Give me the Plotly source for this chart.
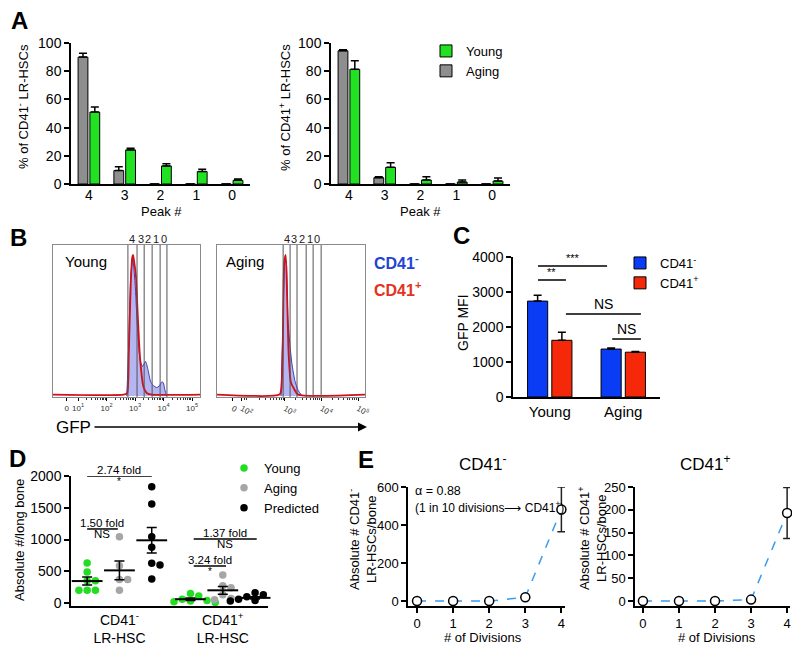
import numpy as np
import plotly.graph_objects as go

# The page body has an 8 px margin, so the figure is drawn 8 px smaller and all
# positions are expressed in reference pixels then shifted by that margin.
OFF = 8
W, H = 800 - OFF, 651 - OFF
FONT = "Arial, Liberation Sans, Helvetica, sans-serif"

GREEN = "#22e022"
GRAY = "#8e8e8e"
BLUE = "#0a3cf5"
RED = "#f5280a"
LBLUE = "#3a9bf0"

# ---------------- Panel A data ----------------
peaks = ["4", "3", "2", "1", "0"]
a_neg_aging = [90, 9.5, 0, 0, 0]
a_neg_aging_err = [2.8, 2.8, 0, 0, 0]
a_neg_young = [51, 24.2, 12.8, 8.8, 2.6]
a_neg_young_err = [3.6, 1.1, 1.6, 1.6, 0.9]
a_pos_aging = [94.5, 4.5, 0, 0, 0]
a_pos_aging_err = [0.7, 0.7, 0, 0, 0]
a_pos_young = [81.3, 11.8, 2.8, 1.4, 2.1]
a_pos_young_err = [6.2, 3.3, 2.4, 1.5, 2.2]

# ---------------- Panel B data (log10 GFP units, relative counts) ----------------
b_young_neg_x = [2.71, 2.77, 2.85, 2.92, 3.0, 3.08, 3.175, 3.26, 3.32, 3.37, 3.45, 3.55, 3.64, 3.76, 3.85, 3.94, 3.99, 4.05, 4.11]
b_young_neg_y = [0, 0.3, 0.85, 0.97, 0.8, 0.5, 0.26, 0.21, 0.23, 0.245, 0.19, 0.1, 0.075, 0.06, 0.07, 0.1, 0.095, 0.04, 0]
b_young_pos_x = [0.1, 2.6, 2.72, 2.78, 2.85, 2.9, 2.93, 2.97, 3.03, 3.1, 3.175, 3.29, 3.42, 3.6, 5.3]
b_young_pos_y = [0.01, 0.01, 0.02, 0.3, 0.8, 0.98, 1.0, 0.95, 0.85, 0.55, 0.27, 0.07, 0.02, 0.01, 0.01]
b_aging_neg_x = [2.89, 2.945, 3.0, 3.03, 3.055, 3.08, 3.14, 3.19, 3.27, 3.36, 3.47]
b_aging_neg_y = [0, 0.5, 0.95, 0.96, 0.8, 0.55, 0.35, 0.23, 0.11, 0.04, 0]
b_aging_pos_x = [1.1, 2.85, 2.9, 2.945, 2.98, 3.02, 3.06, 3.1, 3.16, 3.25, 3.36, 5.2]
b_aging_pos_y = [0.01, 0.01, 0.05, 0.45, 0.95, 1.0, 0.7, 0.3, 0.1, 0.05, 0.01, 0.01]
b_young_gates = [2.75, 3.07, 3.32, 3.6, 3.88, 4.12]
b_aging_gates = [2.95, 3.14, 3.33, 3.58, 3.77, 3.99]
gate_labels = ["4", "3", "2", "1", "0"]
b_young_ticks = [0.6, 1, 2, 3, 4, 5]
b_young_ticktext = ["0", "10<sup>1</sup>", "10<sup>2</sup>", "10<sup>3</sup>", "10<sup>4</sup>", "10<sup>5</sup>"]
b_aging_ticks = [1.575, 1.82, 3, 4, 5]
b_aging_ticktext = ["0", "10<sup>2</sup>", "10<sup>3</sup>", "10<sup>4</sup>", "10<sup>5</sup>"]

# ---------------- Panel C data ----------------
c_groups = ["Young", "Aging"]
c_neg = [2740, 1370]
c_neg_err = [170, 30]
c_pos = [1620, 1280]
c_pos_err = [230, 20]

# ---------------- Panel D data ----------------
d_neg_young = [630, 490, 350, 350, 200, 200, 200]
d_neg_aging = [1045, 585, 370, 370, 200]
d_neg_pred = [1830, 1560, 1045, 877, 625, 598, 378]
d_pos_young = [150, 110, 60, 40, 30, 20, 10]
d_pos_aging = [440, 270, 240, 130, 70, 50]
d_pos_pred = [160, 130, 100, 80, 60, 50, 40, 30]
d_categories = ["CD41<sup>-</sup><br>LR-HSC", "CD41<sup>+</sup><br>LR-HSC"]

# ---------------- Panel E data ----------------
divisions = [0, 1, 2, 3, 4]
e_neg = [0, 0, 0, 20, 482]
e_neg_err = [0, 0, 0, 0, 118]
e_pos = [0, 0, 0, 3, 193]
e_pos_err = [0, 0, 0, 0, 56]


def px(x):
    return (x - OFF) / W


def py(y):
    return 1 - (y - OFF) / H


fig = go.Figure()

# ---------- A ----------
def bar_err(arr):
    return dict(type="data", array=arr, arrayminus=[0] * len(arr), width=4,
                thickness=1.5, color="black")

for xa, ya, aging, aerr, young, yerr, show in [
    ("x", "y", a_neg_aging, a_neg_aging_err, a_neg_young, a_neg_young_err, False),
    ("x2", "y2", a_pos_aging, a_pos_aging_err, a_pos_young, a_pos_young_err, True),
]:
    fig.add_bar(x=peaks, y=aging, name="Aging", xaxis=xa, yaxis=ya,
                marker=dict(color=GRAY, line=dict(color="black", width=1)),
                error_y=bar_err(aerr), showlegend=show, legend="legend", legendrank=2)
    fig.add_bar(x=peaks, y=young, name="Young", xaxis=xa, yaxis=ya,
                marker=dict(color=GREEN, line=dict(color="black", width=1)),
                error_y=bar_err(yerr), showlegend=show, legend="legend", legendrank=1)

# ---------- B ----------
for xa, ya, nx, ny, pxs, pys in [
    ("x3", "y3", b_young_neg_x, b_young_neg_y, b_young_pos_x, b_young_pos_y),
    ("x4", "y4", b_aging_neg_x, b_aging_neg_y, b_aging_pos_x, b_aging_pos_y),
]:
    fig.add_scatter(x=nx, y=ny, xaxis=xa, yaxis=ya, mode="lines", fill="tozeroy",
                    fillcolor="rgba(120,120,230,0.55)", line=dict(color="#3c3cc4", width=1, shape="spline", smoothing=0.6),
                    showlegend=False, hoverinfo="skip")
    fig.add_scatter(x=pxs, y=pys, xaxis=xa, yaxis=ya, mode="lines",
                    line=dict(color="#d0101a", width=1.8, shape="spline", smoothing=0.6),
                    showlegend=False, hoverinfo="skip")

# ---------- C ----------
fig.add_bar(x=c_groups, y=c_neg, name="CD41<sup>-</sup>", xaxis="x5", yaxis="y5",
            marker=dict(color=BLUE, line=dict(color="black", width=1)),
            error_y=bar_err(c_neg_err), legend="legend2")
fig.add_bar(x=c_groups, y=c_pos, name="CD41<sup>+</sup>", xaxis="x5", yaxis="y5",
            marker=dict(color=RED, line=dict(color="black", width=1)),
            error_y=bar_err(c_pos_err), legend="legend2")

# ---------- D ----------
D_XS = 197 / 6.1
D_YS = 130 / 2047


def swarm(values, center, diam=7.5):
    placed, out = [], []
    step = diam * 0.55 / D_XS
    for v in values:
        k, chosen = 0, None
        while chosen is None:
            cands = [0.0] if k == 0 else [k * step, -k * step]
            for off in cands:
                x = center + off
                if all(((x - a) * D_XS) ** 2 + ((v - b) * D_YS) ** 2 >= diam ** 2 for a, b in placed):
                    chosen = x
                    break
            k += 1
        placed.append((chosen, v))
        out.append(chosen)
    return out


group_base = [1.0, 4.2]
d_sets = [
    ("Young", "#22dd22", [d_neg_young, d_pos_young], 0),
    ("Aging", "#a6a6a6", [d_neg_aging, d_pos_aging], 1),
    ("Predicted", "black", [d_neg_pred, d_pos_pred], 2),
]
for name, col, sets, off in d_sets:
    xs, ys = [], []
    mx, my, ms = [], [], []
    for gi, vals in enumerate(sets):
        c = group_base[gi] + off
        xs += swarm(vals, c)
        ys += vals
        arr = np.array(vals, dtype=float)
        mx.append(c)
        my.append(arr.mean())
        ms.append(arr.std(ddof=1) / np.sqrt(len(arr)))
    fig.add_scatter(x=xs, y=ys, mode="markers", name=name, xaxis="x6", yaxis="y6",
                    marker=dict(color=col, size=7.5), legend="legend3", cliponaxis=False)
    fig.add_scatter(x=mx, y=my, mode="markers", xaxis="x6", yaxis="y6", showlegend=False,
                    marker=dict(symbol="line-ew", size=22, color="black", line=dict(width=2, color="black")),
                    error_y=dict(type="data", array=ms, width=5, thickness=1.5, color="black"),
                    cliponaxis=False)

# ---------- E ----------
for xa, ya, vals, errs in [("x7", "y7", e_neg, e_neg_err), ("x8", "y8", e_pos, e_pos_err)]:
    fig.add_scatter(x=divisions, y=vals, xaxis=xa, yaxis=ya, mode="lines+markers",
                    line=dict(color=LBLUE, width=1.5, dash="dash"),
                    marker=dict(symbol="circle", size=9, color="white", line=dict(color="black", width=1.5)),
                    error_y=dict(type="data", array=errs, width=4, thickness=1.5, color="#222"),
                    showlegend=False, cliponaxis=False)

# ---------------- Layout ----------------
TF = dict(family=FONT, size=14, color="black")


def base_axis(**kw):
    d = dict(showline=True, linecolor="black", linewidth=1.5, showgrid=False, zeroline=False,
             ticks="outside", ticklen=5, tickwidth=1.5, tickcolor="black", tickfont=TF, automargin=False)
    d.update(kw)
    return d


minor_vals = [np.log10(k) + d for d in range(1, 5) for k in range(2, 10)]
LEG = dict(xanchor="left", yanchor="top", bgcolor="rgba(0,0,0,0)",
           font=dict(family=FONT, size=13), tracegroupgap=0, itemwidth=30)

layout = dict(
    width=W, height=H, margin=dict(l=0, r=0, t=0, b=0, pad=0, autoexpand=False),
    paper_bgcolor="white", plot_bgcolor="white",
    font=dict(family=FONT, color="black"),
    barmode="group", bargap=0.34, bargroupgap=0.17,
    # A
    xaxis=base_axis(domain=[px(71), px(250)], anchor="y", range=[-0.5, 4.5], type="category", ticks="",
                    ticklabelstandoff=-3),
    yaxis=base_axis(domain=[py(184), py(43)], anchor="x", range=[0, 100], dtick=20),
    xaxis2=base_axis(domain=[px(331), px(510)], anchor="y2", range=[-0.5, 4.5], type="category", ticks="",
                     ticklabelstandoff=-3),
    yaxis2=base_axis(domain=[py(184), py(43)], anchor="x2", range=[0, 100], dtick=20),
    # B
    xaxis3=base_axis(domain=[px(53), px(200)], anchor="y3", range=[0.12, 5.28], linecolor="#8a8a8a", linewidth=1,
                     mirror=True, tickmode="array", tickvals=b_young_ticks, ticktext=b_young_ticktext,
                     ticklen=3, tickwidth=1, tickfont=dict(family=FONT, size=8, color="#333"),
                     minor=dict(tickmode="array", tickvals=minor_vals, ticks="outside", ticklen=2, tickcolor="#333")),
    yaxis3=dict(domain=[py(397), py(245)], anchor="x3", range=[-0.007, 1.07], showline=True, mirror=True,
                linecolor="#8a8a8a", linewidth=1, showgrid=False, zeroline=False, showticklabels=False, ticks="",
                automargin=False),
    xaxis4=base_axis(domain=[px(217), px(365)], anchor="y4", range=[1.14, 5.19], linecolor="#8a8a8a", linewidth=1,
                     mirror=True, tickmode="array", tickvals=b_aging_ticks, ticktext=b_aging_ticktext,
                     ticklen=3, tickwidth=1, tickfont=dict(family=FONT, size=8, color="#333"),
                     minor=dict(tickmode="array", tickvals=[v for v in minor_vals if v > 1.9], ticks="outside",
                                ticklen=2, tickcolor="#333")),
    yaxis4=dict(domain=[py(397), py(245)], anchor="x4", range=[-0.007, 1.07], showline=True, mirror=True,
                linecolor="#8a8a8a", linewidth=1, showgrid=False, zeroline=False, showticklabels=False, ticks="",
                automargin=False),
    # C
    xaxis5=base_axis(domain=[px(513), px(660)], anchor="y5", range=[-0.5, 1.5], type="category", ticks="",
                     tickfont=dict(family=FONT, size=15, color="black")),
    yaxis5=base_axis(domain=[py(397), py(257)], anchor="x5", range=[0, 4000], dtick=1000),
    # D
    xaxis6=base_axis(domain=[px(71), px(268)], anchor="y6", range=[0.5, 6.6], ticks="", tickmode="array",
                     tickvals=[group_base[0] + 1, group_base[1] + 1], ticktext=d_categories),
    yaxis6=base_axis(domain=[py(606), py(476)], anchor="x6", range=[-47, 2000], tickmode="array",
                     tickvals=[0, 500, 1000, 1500, 2000]),
    # E
    xaxis7=base_axis(domain=[px(408), px(565)], anchor="y7", range=[-0.25, 4.1], tickmode="array",
                     tickvals=divisions, tickfont=dict(family=FONT, size=13, color="black")),
    yaxis7=base_axis(domain=[py(606), py(487)], anchor="x7", range=[-26, 600], tickmode="array",
                     tickvals=[0, 200, 400, 600], tickfont=dict(family=FONT, size=13, color="black")),
    xaxis8=base_axis(domain=[px(635), px(790)], anchor="y8", range=[-0.22, 4.08], tickmode="array",
                     tickvals=divisions, tickfont=dict(family=FONT, size=13, color="black")),
    yaxis8=base_axis(domain=[py(606), py(487)], anchor="x8", range=[-11, 250], tickmode="array",
                     tickvals=[0, 50, 100, 150, 200, 250], tickfont=dict(family=FONT, size=13, color="black")),
    legend=dict(x=px(426), y=py(36), **LEG),
    legend2=dict(x=px(620), y=py(248), **LEG),
    legend3=dict(x=px(224), y=py(453), **LEG),
)
fig.update_layout(**layout)

ann = []


def text(x, y, s, size=13, **kw):
    d = dict(x=px(x), y=py(y), xref="paper", yref="paper", text=s, showarrow=False,
             xanchor="center", yanchor="middle",
             font=dict(family=FONT, size=size, color=kw.pop("color", "black")))
    d.update(kw)
    ann.append(d)


# panel letters
for L, x, y in [("A", 19, 21), ("B", 18, 237), ("C", 461, 235), ("D", 17, 458), ("E", 366, 460)]:
    text(x, y, "<b>%s</b>" % L, size=24)

# A
text(161, 212, "Peak #", 13)
text(420, 212, "Peak #", 13)
text(23, 107, "% of CD41<sup>-</sup> LR-HSCs", 13, textangle=-90)
text(285, 108, "% of CD41<sup>+</sup> LR-HSCs", 13, textangle=-90)

# B
text(63, 261, "Young", 15, xanchor="left")
text(224, 261, "Aging", 15, xanchor="left")
text(372, 262, "<b>CD41<sup>-</sup></b>", 16, xanchor="left", color="#2343d6")
text(372, 289, "<b>CD41<sup>+</sup></b>", 16, xanchor="left", color="#e3321e")
text(73, 427, "GFP", 17)
ann.append(dict(x=px(367), y=py(427), ax=93 - 367, ay=0, xref="paper", yref="paper",
                axref="pixel", ayref="pixel", text="", showarrow=True, arrowhead=2, arrowsize=1.2,
                arrowwidth=1.5, arrowcolor="black"))
shapes = []
for xa, gates in [("x3", b_young_gates), ("x4", b_aging_gates)]:
    for g in gates:
        shapes.append(dict(type="line", xref=xa, yref=xa.replace("x", "y") + " domain", x0=g, x1=g, y0=0, y1=1,
                           line=dict(color="#555", width=1)))
    for i, lab in enumerate(gate_labels):
        ann.append(dict(x=(gates[i] + gates[i + 1]) / 2, y=py(239), xref=xa, yref="paper", text=lab,
                        xanchor="center", yanchor="middle",
                        showarrow=False, font=dict(family=FONT, size=11, color="#222")))

# C
text(463, 323, "GFP MFI", 14, textangle=-90)
c_sig = [(-0.16, 0.78, 3743, "***", 11), (-0.16, 0.22, 3343, "**", 11),
         (0.22, 1.24, 2371, "NS", 14), (0.85, 1.24, 1657, "NS", 14)]
for x0, x1, yv, lab, fs in c_sig:
    shapes.append(dict(type="line", xref="x5", yref="y5", x0=x0, x1=x1, y0=yv, y1=yv,
                       line=dict(color="black", width=1.5)))
    ann.append(dict(x=(x0 + x1) / 2, y=yv, xref="x5", yref="y5", text=lab, showarrow=False,
                    xanchor="center", yanchor="bottom", font=dict(family=FONT, size=fs, color="black")))

# D
text(19, 540, "Absolute #/long bone", 13, textangle=-90)
d_sig = [(1.0, 3.0, 2000, "2.74 fold", "*"), (1.0, 1.95, 1166, "1.50 fold", "NS"),
         (4.3, 6.25, 1008, "1.37 fold", "NS"), (4.3, 5.3, 583, "3.24 fold", "*")]
for x0, x1, yv, top, bot in d_sig:
    shapes.append(dict(type="line", xref="x6", yref="y6", x0=x0, x1=x1, y0=yv, y1=yv,
                       line=dict(color="black", width=1.5)))
    ann.append(dict(x=(x0 + x1) / 2, y=yv, xref="x6", yref="y6", text=top, showarrow=False,
                    xanchor="center", yanchor="bottom", yshift=-1, borderpad=0,
                    font=dict(family=FONT, size=11.5, color="black")))
    ann.append(dict(x=(x0 + x1) / 2, y=yv, xref="x6", yref="y6", text=bot, showarrow=False,
                    xanchor="center", yanchor="top", yshift=2 if bot == "NS" else 1, borderpad=0,
                    font=dict(family=FONT, size=11.5 if bot == "NS" else 10, color="black")))

# E
text(483, 463, "CD41<sup>-</sup>", 17)
text(705, 463, "CD41<sup>+</sup>", 17)
text(483, 637, "# of Divisions", 13)
text(717, 637, "# of Divisions", 13)
text(362, 540, "Absolute # CD41<sup>-</sup><br>LR-HSCs/bone", 13, textangle=-90)
text(592, 538, "Absolute # CD41<sup>+</sup><br>LR-HSCs/bone", 13, textangle=-90)
text(413, 491, "\u03b1 = 0.88", 12.5, xanchor="left")
text(413, 507, "(1 in 10 divisions\u27f6 CD41<sup>+</sup>)", 12, xanchor="left")

fig.update_layout(annotations=ann, shapes=shapes)
fig.write_html("out.html")
